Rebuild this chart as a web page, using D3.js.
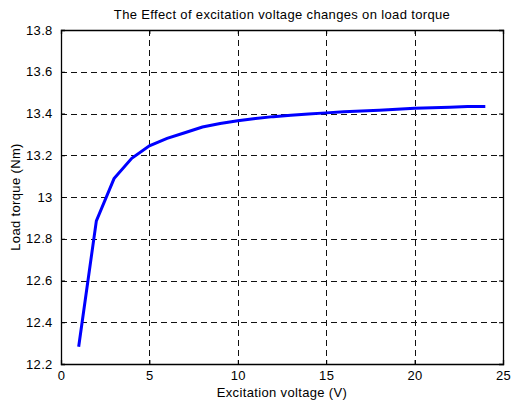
<!DOCTYPE html>
<html><head><meta charset="utf-8">
<script src="https://cdn.jsdelivr.net/npm/d3@7"></script>
<style>body{margin:0;background:#fff}text{font-family:"Liberation Sans",Arial,sans-serif}</style>
</head><body>
<svg id="c" width="511" height="405"></svg>
<script>
const voltage = [1,2,3,4,5,6,7,8,9,10,11,12,13,14,15,16,17,18,19,20,21,22,23,24];
const torque = [12.283,12.886,13.088,13.185,13.245,13.281,13.308,13.335,13.352,13.365,13.376,13.385,13.392,13.398,13.403,13.408,13.412,13.416,13.420,13.425,13.428,13.430,13.433,13.434];
const xTicks = [0,5,10,15,20,25];
const yTicks = [12.2,12.4,12.6,12.8,13,13.2,13.4,13.6,13.8];
const title = "The Effect of excitation voltage changes on load torque";
const xLabel = "Excitation voltage (V)";
const yLabel = "Load torque (Nm)";

const L=61,R=503,T=30,B=364;
const FS=13, LS="0.35px";
const svg=d3.select("#c");
const x=d3.scaleLinear().domain([0,25]).range([L,R]);
const y=d3.scaleLinear().domain([12.2,13.8]).range([B,T]);

// grid
const g=svg.append("g");
g.selectAll(".vx").data(xTicks.slice(1,-1)).join("line")
 .attr("x1",d=>Math.round(x(d))+0.5).attr("x2",d=>Math.round(x(d))+0.5).attr("y1",T).attr("y2",B)
 .attr("stroke","#111").attr("stroke-width",1).attr("stroke-dasharray","6,4");
g.selectAll(".hy").data(yTicks.slice(1,-1)).join("line")
 .attr("y1",d=>Math.round(y(d))+0.5).attr("y2",d=>Math.round(y(d))+0.5).attr("x1",L).attr("x2",R)
 .attr("stroke","#111").attr("stroke-width",1).attr("stroke-dasharray","6,4");

// axes
const fmt=d=>String(+d.toFixed(1));
const ax=svg.append("g").attr("transform",`translate(0,${B})`).call(d3.axisBottom(x).tickValues(xTicks).tickSize(-4).tickPadding(7).tickFormat(d3.format("d")));
const axT=svg.append("g").attr("transform",`translate(0,${T})`).call(d3.axisTop(x).tickValues(xTicks).tickSize(-4).tickFormat(""));
const ay=svg.append("g").attr("transform",`translate(${L},0)`).call(d3.axisLeft(y).tickValues(yTicks).tickSize(-4).tickPadding(7).tickFormat(fmt));
const ayR=svg.append("g").attr("transform",`translate(${R},0)`).call(d3.axisRight(y).tickValues(yTicks).tickSize(-4).tickFormat(""));
[ax,axT,ay,ayR].forEach(a=>{a.select(".domain").attr("stroke","#000").attr("stroke-width",1.3);
 a.selectAll(".tick line").attr("stroke","#000");
 a.selectAll("text").attr("font-size",FS).attr("letter-spacing",LS).attr("fill","#000").attr("font-family","Liberation Sans, Arial, sans-serif");});
ay.selectAll("text").attr("dx","-0.1em");

// line
svg.append("path").datum(voltage.map((v,i)=>[v,torque[i]]))
 .attr("fill","none").attr("stroke","#0000ff").attr("stroke-width",3)
 .attr("d",d3.line().x(d=>x(d[0])).y(d=>y(d[1])));

svg.append("text").attr("x",(L+R)/2).attr("y",19).attr("text-anchor","middle").attr("font-size",FS).attr("letter-spacing",LS).text(title);
svg.append("text").attr("x",(L+R)/2).attr("y",397).attr("text-anchor","middle").attr("font-size",FS).attr("letter-spacing",LS).text(xLabel);
svg.append("text").attr("transform",`translate(20,${(T+B)/2}) rotate(-90)`).attr("text-anchor","middle").attr("font-size",FS).attr("letter-spacing",LS).text(yLabel);
</script>
</body></html>
